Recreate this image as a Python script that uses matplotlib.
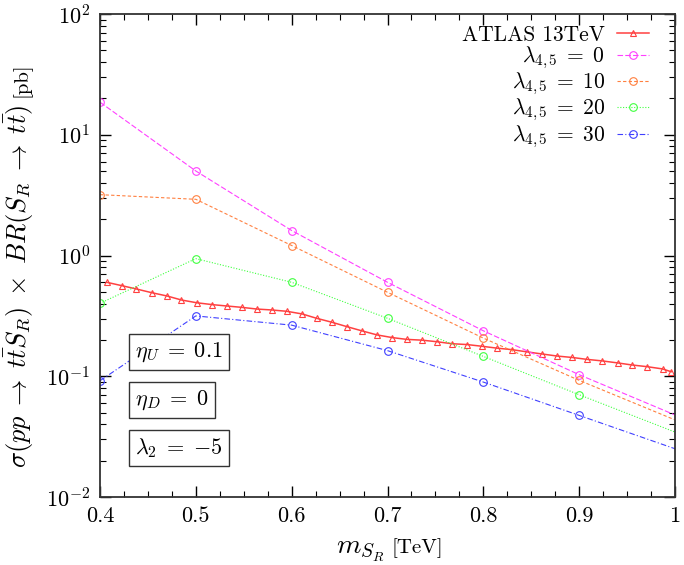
import matplotlib
matplotlib.use("Agg")
import matplotlib.pyplot as plt
from matplotlib.ticker import MultipleLocator, LogLocator, FormatStrFormatter

plt.rcParams['mathtext.fontset'] = 'cm'
plt.rcParams['font.family'] = 'serif'
plt.rcParams['font.serif'] = ['cmr10', 'DejaVu Serif']
plt.rcParams['axes.formatter.use_mathtext'] = True

atlas_mass = [0.407, 0.423, 0.438, 0.454, 0.470, 0.485, 0.501, 0.517, 0.532, 0.548,
              0.564, 0.579, 0.595, 0.611, 0.626, 0.642, 0.658, 0.673, 0.689, 0.705,
              0.720, 0.736, 0.752, 0.767, 0.783, 0.799, 0.814, 0.830, 0.846, 0.861,
              0.877, 0.893, 0.908, 0.924, 0.940, 0.955, 0.971, 0.987, 0.996]
atlas_xsec = [0.600, 0.562, 0.528, 0.492, 0.462, 0.428, 0.406, 0.392, 0.382, 0.372,
              0.360, 0.354, 0.345, 0.328, 0.302, 0.280, 0.257, 0.238, 0.220, 0.209,
              0.202, 0.199, 0.193, 0.186, 0.183, 0.177, 0.171, 0.166, 0.159, 0.153,
              0.147, 0.143, 0.138, 0.134, 0.129, 0.124, 0.120, 0.115, 0.109]

mass = [0.4, 0.5, 0.6, 0.7, 0.8, 0.9, 1.0]
xsec_lam0 = [18.6, 5.01, 1.61, 0.600, 0.238, 0.103, 0.0478]
xsec_lam10 = [3.19, 2.92, 1.21, 0.496, 0.207, 0.0925, 0.0435]
xsec_lam20 = [0.402, 0.942, 0.600, 0.302, 0.146, 0.0703, 0.0345]
xsec_lam30 = [0.0918, 0.316, 0.265, 0.163, 0.0895, 0.0474, 0.0251]

W, H = 684, 565
fig = plt.figure(figsize=(W / 100, H / 100), dpi=100)
ax = fig.add_axes([100 / W, 1 - 497 / H, 575 / W, 483 / H])

ax.plot(atlas_mass, atlas_xsec, color='#ff4040', lw=1.1, marker='^', ms=5,
        mfc='none', mew=0.8, label=r'ATLAS 13TeV')

series = [
    (xsec_lam0, '#ff40ff', (0, (5, 2)), r'$\lambda_{4,5}\;=\;0$'),
    (xsec_lam10, '#ff8040', (0, (3, 2)), r'$\lambda_{4,5}\;=\;10$'),
    (xsec_lam20, '#40ff40', (0, (1, 1.5)), r'$\lambda_{4,5}\;=\;20$'),
    (xsec_lam30, '#4040ff', (0, (5, 2, 1, 2)), r'$\lambda_{4,5}\;=\;30$'),
]
for vals, col, ls, lab in series:
    ax.plot(mass, vals, color=col, lw=0.8, ls=ls, marker='o', ms=5.5,
            mfc='none', mew=0.8, markevery=[0, 1, 2, 3, 4, 5], label=lab)

ax.set_yscale('log')
ax.set_xlim(0.4, 1.0)
ax.set_ylim(1e-2, 1e2)
ax.xaxis.set_major_locator(MultipleLocator(0.1))
ax.xaxis.set_minor_locator(MultipleLocator(0.025))
ax.xaxis.set_major_formatter(FormatStrFormatter('%g'))
ax.yaxis.set_major_locator(LogLocator(base=10, numticks=10))
ax.yaxis.set_minor_locator(LogLocator(base=10, subs=range(2, 10), numticks=20))

ax.tick_params(which='both', direction='in', top=True, right=True, labelsize=16, pad=7)
ax.tick_params(which='major', length=8, width=1.0)
ax.tick_params(which='minor', length=4.5, width=0.8)
for sp in ax.spines.values():
    sp.set_linewidth(1.3)
    sp.set_color('#333333')

# axis labels: math part larger than the unit, as in the LaTeX original
fig.text(385 / W, 1 - 553 / H, r'$m_{S_R}$', fontsize=20, ha='right', va='baseline')
fig.text(391 / W, 1 - 553 / H, '[TeV]', fontsize=15, ha='left', va='baseline')

# wider spacing around relations, like LaTeX
ylab = fig.text(27 / W, 1 - 468 / H,
                r'$\sigma(pp\;\to\;t\bar{t}S_R)\;\times\;BR(S_R\;\to\;t\bar{t})$',
                fontsize=19, rotation=90, rotation_mode='anchor', ha='left', va='baseline')
fig.canvas.draw()
span = ylab.get_window_extent().height
max_span = 468 - 80
if span > max_span:
    ylab.set_fontsize(19 * max_span / span)
    fig.canvas.draw()
top = ylab.get_window_extent().y1
fig.text(27 / W, (top + 7) / H, '[pb]', fontsize=15, rotation=90,
         rotation_mode='anchor', ha='left', va='baseline')

leg = ax.legend(loc='upper right', frameon=False, markerfirst=False, fontsize=15.5,
                handlelength=1.5, handletextpad=0.55, labelspacing=0.0,
                borderaxespad=0, borderpad=0,
                bbox_to_anchor=((649 - 100) / 575, 1 - 11 / 483))

box = dict(boxstyle='square,pad=0.28', fc='white', ec='#333333', lw=1.0)
for ypos, txt in [(0.300, r'$\eta_U\;=\;0.1$'), (0.201, r'$\eta_D\;=\;0$'),
                  (0.101, r'$\lambda_2\;=\;{-}5$')]:
    ax.text(0.061, ypos, txt, transform=ax.transAxes, fontsize=16, va='center',
            ha='left', bbox=box)

fig.savefig('out.png', dpi=100)
